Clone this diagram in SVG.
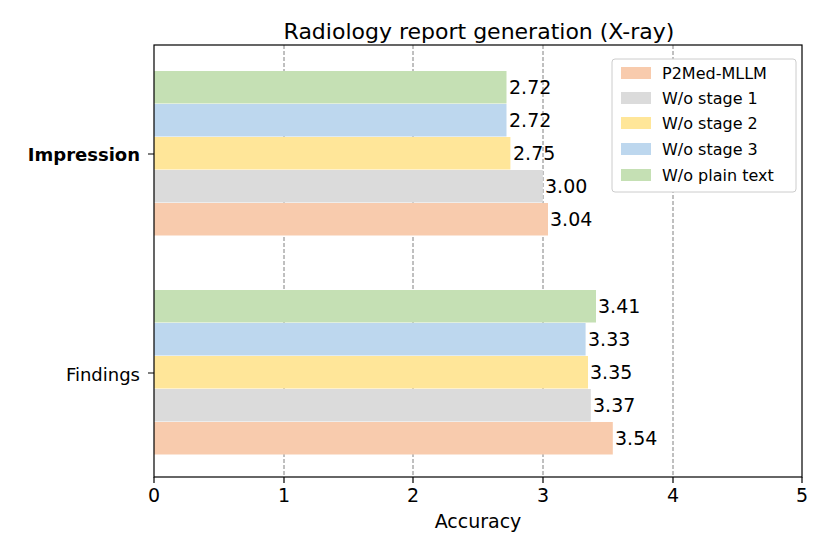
<svg xmlns="http://www.w3.org/2000/svg" width="830" height="554" viewBox="0 0 830 554">
<style>
text{font-family:"DejaVu Sans",sans-serif;font-size:19px;fill:#000}
.g{stroke:#808080;stroke-width:1;stroke-dasharray:4,2}
.o{fill:#f8cbad}.gr{fill:#dbdbdb}.y{fill:#ffe699}.b{fill:#bdd7ee}.gn{fill:#c5e0b4}
.ax{stroke:#000;stroke-width:1.2;fill:none}
.l{font-size:16px}
</style>
<rect width="830" height="554" fill="#fff"/>
<g id="grid">
<line class="g" x1="284" y1="45" x2="284" y2="477"/>
<line class="g" x1="413" y1="45" x2="413" y2="477"/>
<line class="g" x1="543" y1="45" x2="543" y2="477"/>
<line class="g" x1="673" y1="45" x2="673" y2="477"/>
</g>
<g id="bars">
<rect class="gn" x="154" y="71" width="352.5" height="32.5"/>
<rect class="b" x="154" y="104" width="352.5" height="32.5"/>
<rect class="y" x="154" y="137" width="356.4" height="32.5"/>
<rect class="gr" x="154" y="170" width="388.8" height="32.5"/>
<rect class="o" x="154" y="203" width="394" height="32.5"/>
<rect class="gn" x="154" y="290" width="442" height="32.5"/>
<rect class="b" x="154" y="323" width="431.6" height="32.5"/>
<rect class="y" x="154" y="356" width="434" height="32.5"/>
<rect class="gr" x="154" y="389" width="436.8" height="32.5"/>
<rect class="o" x="154" y="422" width="458.8" height="32.5"/>
</g>
<g id="values">
<text x="509" y="94">2.72</text>
<text x="509" y="127">2.72</text>
<text x="513" y="160">2.75</text>
<text x="545" y="193">3.00</text>
<text x="550" y="226">3.04</text>
<text x="598" y="313">3.41</text>
<text x="588" y="346">3.33</text>
<text x="590" y="379">3.35</text>
<text x="593" y="412">3.37</text>
<text x="615" y="445">3.54</text>
</g>
<g id="axes">
<rect class="ax" x="154" y="45" width="648" height="432"/>
<path class="ax" d="M154 477v6M284 477v6M413 477v6M543 477v6M673 477v6M802 477v6M154 154h-6M154 373h-6"/>
<g text-anchor="middle">
<text x="154" y="502">0</text><text x="284" y="502">1</text><text x="413" y="502">2</text>
<text x="543" y="502">3</text><text x="673" y="502">4</text><text x="802" y="502">5</text>
<text x="478" y="528">Accuracy</text>
<text x="479" y="39" style="font-size:22px">Radiology report generation (X-ray)</text>
</g>
<text x="140" y="161" text-anchor="end" font-weight="bold" style="font-size:18px">Impression</text>
<text x="140" y="381" text-anchor="end" style="font-size:18px">Findings</text>
</g>
<g id="legend">
<rect x="612" y="59" width="184" height="133" rx="3" fill="#fff" stroke="#ccc"/>
<rect class="o" x="621" y="67" width="30" height="12"/>
<rect class="gr" x="621" y="92" width="30" height="12"/>
<rect class="y" x="621" y="117" width="30" height="12"/>
<rect class="b" x="621" y="143" width="30" height="12"/>
<rect class="gn" x="621" y="169" width="30" height="12"/>
<text class="l" x="662" y="79">P2Med-MLLM</text>
<text class="l" x="662" y="104">W/o stage 1</text>
<text class="l" x="662" y="129">W/o stage 2</text>
<text class="l" x="662" y="155">W/o stage 3</text>
<text class="l" x="662" y="181">W/o plain text</text>
</g>
</svg>
